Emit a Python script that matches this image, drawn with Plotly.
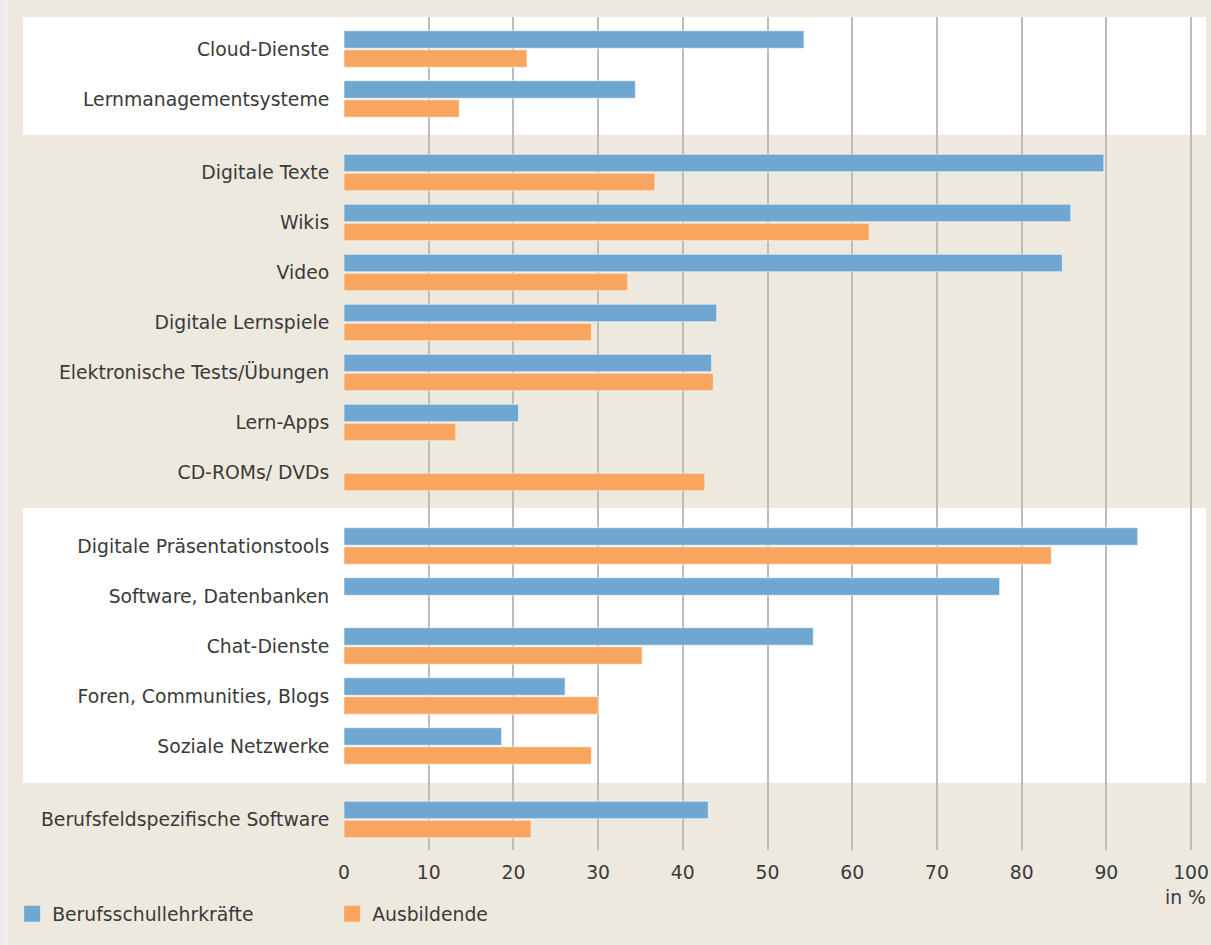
import plotly.graph_objects as go

categories = [
    "Cloud-Dienste", "Lernmanagementsysteme",
    "Digitale Texte", "Wikis", "Video", "Digitale Lernspiele",
    "Elektronische Tests/Übungen", "Lern-Apps", "CD-ROMs/ DVDs",
    "Digitale Präsentationstools", "Software, Datenbanken", "Chat-Dienste",
    "Foren, Communities, Blogs", "Soziale Netzwerke",
    "Berufsfeldspezifische Software",
]
group_of = [0, 0, 1, 1, 1, 1, 1, 1, 1, 2, 2, 2, 2, 2, 3]
lehrkraefte = [54.3, 34.4, 89.7, 85.8, 84.8, 44.0, 43.4, 20.6, None,
               93.7, 77.4, 55.4, 26.1, 18.6, 43.0]
ausbildende = [21.6, 13.6, 36.7, 62.0, 33.5, 29.2, 43.6, 13.2, 42.6,
               83.5, None, 35.2, 30.0, 29.2, 22.1]
series_names = ["Berufsschullehrkräfte", "Ausbildende"]
x_ticks = [0, 10, 20, 30, 40, 50, 60, 70, 80, 90, 100]
axis_unit = "in %"

BLUE = "#6FA7D0"
ORANGE = "#F8A65F"
BEIGE = "#EEE9DF"
TEXT = "#3A3A3A"
GRID = "#BCBCBC"
FONT = "DejaVu Sans"
FS = 18.8

W, H = 1211, 945
ML, MR, MT, MB = 344, 2, 17, 95
PW = W - ML - MR
PH = H - MT - MB
GAP = 0.47
ypos = [i + GAP * g for i, g in enumerate(group_of)]
ROW = 50.0  # px per row unit
y_top = -(49 - MT) / ROW
y_bot = y_top + PH / ROW
x_max = PW / 8.5


def px_to_paper_x(px):
    return (px - ML) / PW


def py_to_paper_y(py):
    return (H - MB - py) / PH


def py_to_row(py):
    return (py - 49) / ROW


fig = go.Figure()
fig.add_trace(go.Bar(
    y=ypos, x=lehrkraefte, orientation="h", name=series_names[0],
    marker=dict(color=BLUE, line=dict(color="rgba(255,255,255,0.55)", width=1)),
    showlegend=False, legendgroup="a",
))
fig.add_trace(go.Bar(
    y=ypos, x=ausbildende, orientation="h", name=series_names[1],
    marker=dict(color=ORANGE, line=dict(color="rgba(255,255,255,0.55)", width=1)),
    showlegend=False, legendgroup="b",
))
# legend entries with larger square symbols
for nm, col, lg in [(series_names[0], BLUE, "a"), (series_names[1], ORANGE, "b")]:
    fig.add_trace(go.Scatter(
        x=[None], y=[None], mode="markers", name=nm, legendgroup=lg,
        marker=dict(symbol="square", size=20, color=col), showlegend=True,
    ))

shapes = []
# left grey strip
shapes.append(dict(type="rect", xref="paper", yref="paper",
                   x0=px_to_paper_x(0), x1=px_to_paper_x(7),
                   y0=py_to_paper_y(H), y1=py_to_paper_y(0),
                   fillcolor="#EEEEEE", line=dict(width=0), layer="below"))
# white bands
for top_px, bot_px in [(17, 135), (508, 783)]:
    shapes.append(dict(type="rect", xref="paper", yref="y",
                       x0=px_to_paper_x(22), x1=px_to_paper_x(1209),
                       y0=py_to_row(top_px), y1=py_to_row(bot_px),
                       fillcolor="white", line=dict(width=0), layer="below"))

fig.update_layout(
    width=W, height=H,
    margin=dict(l=ML, r=MR, t=MT, b=MB),
    paper_bgcolor=BEIGE,
    plot_bgcolor="rgba(0,0,0,0)",
    barmode="group",
    bargap=0.24,
    bargroupgap=0.08,
    font=dict(family=FONT, size=FS, color=TEXT),
    shapes=shapes,
    showlegend=True,
    legend=dict(
        orientation="h", x=px_to_paper_x(11), xanchor="left",
        y=py_to_paper_y(895), yanchor="top",
        bgcolor="rgba(0,0,0,0)",
        font=dict(family=FONT, size=FS, color=TEXT),
        entrywidth=275, entrywidthmode="pixels",
        itemclick=False,
    ),
    annotations=[dict(
        text=axis_unit, xref="x", yref="paper", x=100, y=py_to_paper_y(897),
        xanchor="center", yanchor="middle", showarrow=False,
        font=dict(family=FONT, size=FS, color=TEXT), xshift=-6,
    )],
)
fig.update_xaxes(
    range=[0, x_max], tickvals=x_ticks, ticktext=[str(t) for t in x_ticks],
    showgrid=True, gridcolor=GRID, gridwidth=1.5,
    zeroline=False, showline=False,
    ticks="outside", ticklen=5, tickcolor="rgba(0,0,0,0)",
    tickfont=dict(family=FONT, size=FS, color=TEXT),
    ticklabeloverflow="allow",
    fixedrange=True,
)
fig.update_yaxes(
    range=[y_bot, y_top], tickvals=ypos, ticktext=categories,
    showgrid=False, zeroline=False, showline=False,
    ticks="outside", ticklen=10, tickcolor="rgba(0,0,0,0)",
    tickfont=dict(family=FONT, size=FS, color=TEXT),
    fixedrange=True,
)

fig.write_html(
    "out.html",
    config={"displayModeBar": False},
    post_script="document.body.style.margin='0';document.body.style.overflow='hidden';",
)
